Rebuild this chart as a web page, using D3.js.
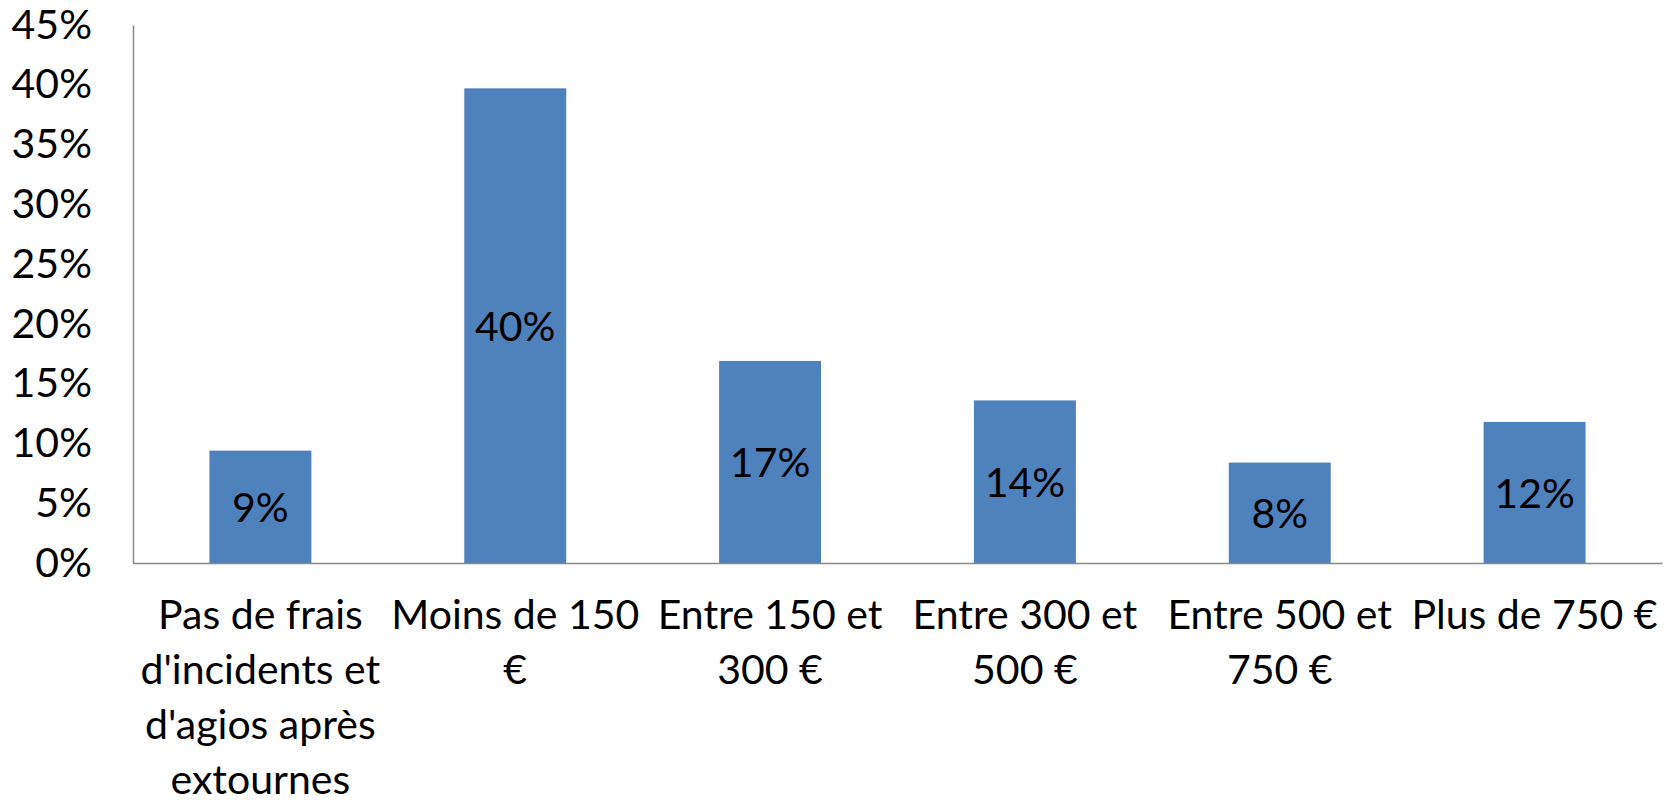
<!DOCTYPE html>
<html>
<head>
<meta charset="utf-8">
<script src="https://cdn.jsdelivr.net/npm/d3@7"></script>
<style>
  html, body { margin: 0; padding: 0; background: #fff; }
  svg text { font-family: Lato, "Open Sans", sans-serif; fill: #000; }
</style>
</head>
<body>
<svg id="chart" width="1665" height="805"></svg>
<script>
// Categories (line breaks as shown under each bar)
const categories = [
  "Pas de frais\nd'incidents et\nd'agios après\nextournes",
  "Moins de 150\n€",
  "Entre 150 et\n300 €",
  "Entre 300 et\n500 €",
  "Entre 500 et\n750 €",
  "Plus de 750 €"
];
// Share of respondents per category
const shares = [0.094, 0.397, 0.169, 0.136, 0.084, 0.118];
// Y axis ticks
const yTicks = [0, 0.05, 0.10, 0.15, 0.20, 0.25, 0.30, 0.35, 0.40, 0.45];

const svg = d3.select("#chart");
const margin = { left: 133, right: 3, top: 25, bottom: 242 };
const W = 1665, H = 805;
const fontSize = 41;

const x = d3.scaleBand()
  .domain(d3.range(categories.length))
  .range([margin.left, W - margin.right])
  .paddingInner(0.6)
  .paddingOuter(0.3);

const y = d3.scaleLinear()
  .domain([0, 0.45])
  .range([H - margin.bottom, margin.top]);

const pct = d3.format(".0%");

// Bars
svg.append("g")
  .selectAll("rect")
  .data(shares)
  .join("rect")
  .attr("x", (d, i) => x(i))
  .attr("y", d => y(d))
  .attr("width", x.bandwidth())
  .attr("height", d => y(0) - y(d))
  .attr("fill", "#4F81BD");

// Value labels, centred inside each bar
svg.append("g")
  .selectAll("text")
  .data(shares)
  .join("text")
  .attr("x", (d, i) => x(i) + x.bandwidth() / 2)
  .attr("y", d => (y(d) + y(0)) / 2)
  .attr("text-anchor", "middle")
  .attr("dominant-baseline", "central")
  .style("font-size", fontSize + "px")
  .text(d => pct(d));

// Y axis
const yAxis = d3.axisLeft(y)
  .tickValues(yTicks)
  .tickFormat(pct)
  .tickSize(0)
  .tickPadding(41);

const gy = svg.append("g")
  .attr("transform", `translate(${margin.left},0)`)
  .call(yAxis);
gy.select(".domain").attr("stroke", "#888").attr("stroke-width", 1.5);
gy.selectAll("text")
  .style("font-size", fontSize + "px")
  .attr("fill", "#000");

// X axis baseline
const xAxis = d3.axisBottom(x).tickSize(0).tickFormat("");
const gx = svg.append("g")
  .attr("transform", `translate(0,${y(0)})`)
  .call(xAxis);
gx.select(".domain").attr("stroke", "#888").attr("stroke-width", 1.5);

// Category labels (multi-line)
const lineH = 55;
const firstBaseline = 629;
const cat = svg.append("g")
  .selectAll("text")
  .data(categories)
  .join("text")
  .attr("text-anchor", "middle")
  .style("font-size", fontSize + "px");
cat.each(function (d, i) {
  const t = d3.select(this);
  d.split("\n").forEach((line, k) => {
    t.append("tspan")
      .attr("x", x(i) + x.bandwidth() / 2)
      .attr("y", firstBaseline + k * lineH)
      .text(line);
  });
});
</script>
</body>
</html>
